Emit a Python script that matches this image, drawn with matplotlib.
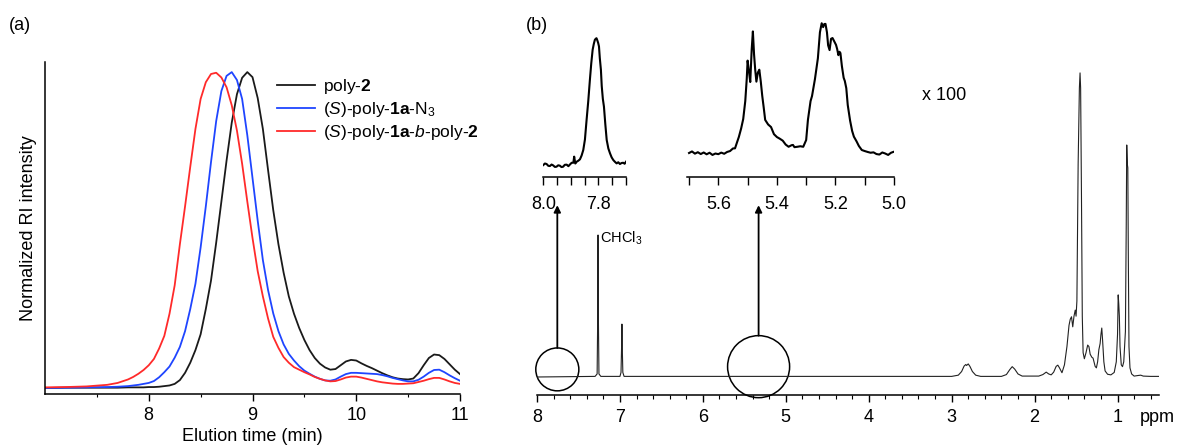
import numpy as np
import matplotlib
matplotlib.use("Agg")
import matplotlib.pyplot as plt
from matplotlib.patches import Ellipse

plt.rcParams['font.family'] = ['Liberation Sans', 'DejaVu Sans']
plt.rcParams['mathtext.fontset'] = 'custom'
plt.rcParams['mathtext.rm'] = 'Liberation Sans'
plt.rcParams['mathtext.it'] = 'Liberation Sans:italic'
plt.rcParams['mathtext.bf'] = 'Liberation Sans:bold'

# ============================================================
# (a) SEC traces, normalized RI intensity vs elution time
# ============================================================
time_min = [7.0, 7.2, 7.4, 7.6, 7.7, 7.8, 7.85, 7.9, 7.95, 8.0,
            8.05, 8.1, 8.15, 8.2, 8.25, 8.3, 8.35, 8.4, 8.45, 8.5,
            8.55, 8.6, 8.65, 8.7, 8.75, 8.8, 8.85, 8.9, 8.95, 9.0,
            9.05, 9.1, 9.15, 9.2, 9.25, 9.3, 9.35, 9.4, 9.45, 9.5,
            9.55, 9.6, 9.65, 9.7, 9.75, 9.8, 9.85, 9.9, 9.95, 10.0,
            10.05, 10.1, 10.15, 10.2, 10.25, 10.3, 10.35, 10.4, 10.45, 10.5,
            10.55, 10.6, 10.65, 10.7, 10.75, 10.8, 10.85, 10.9, 10.95, 11.0]

ri_poly2 = [0.0, 0.001, 0.001, 0.001, 0.001, 0.002, 0.002, 0.002, 0.002, 0.003,
            0.003, 0.004, 0.006, 0.008, 0.013, 0.025, 0.048, 0.08, 0.12, 0.17,
            0.25, 0.34, 0.46, 0.59, 0.72, 0.84, 0.93, 0.982, 1.0, 0.984,
            0.918, 0.82, 0.69, 0.563, 0.455, 0.365, 0.29, 0.235, 0.19, 0.152,
            0.12, 0.095, 0.077, 0.065, 0.058, 0.06, 0.072, 0.084, 0.089, 0.087,
            0.078, 0.07, 0.063, 0.055, 0.047, 0.04, 0.034, 0.03, 0.028, 0.027,
            0.03, 0.047, 0.072, 0.095, 0.106, 0.104, 0.092, 0.075, 0.058, 0.044]

ri_s1a_n3 = [0.0, 0.001, 0.002, 0.003, 0.004, 0.006, 0.008, 0.01, 0.013, 0.016,
             0.022, 0.034, 0.05, 0.068, 0.096, 0.13, 0.18, 0.25, 0.33, 0.445,
             0.575, 0.715, 0.845, 0.94, 0.988, 1.0, 0.975, 0.915, 0.80, 0.665,
             0.53, 0.405, 0.31, 0.236, 0.18, 0.138, 0.108, 0.087, 0.069, 0.055,
             0.045, 0.036, 0.029, 0.024, 0.023, 0.027, 0.036, 0.044, 0.048, 0.048,
             0.047, 0.046, 0.045, 0.044, 0.041, 0.037, 0.032, 0.028, 0.024, 0.021,
             0.021, 0.026, 0.036, 0.048, 0.057, 0.058, 0.05, 0.04, 0.031, 0.023]

ri_block = [0.002, 0.003, 0.005, 0.010, 0.016, 0.027, 0.035, 0.045, 0.057, 0.072,
            0.092, 0.125, 0.165, 0.235, 0.325, 0.455, 0.575, 0.70, 0.82, 0.915,
            0.968, 0.994, 0.998, 0.983, 0.952, 0.895, 0.815, 0.71, 0.59, 0.475,
            0.37, 0.29, 0.22, 0.162, 0.127, 0.098, 0.080, 0.066, 0.058, 0.050,
            0.043, 0.035, 0.029, 0.024, 0.021, 0.022, 0.027, 0.033, 0.036, 0.036,
            0.033, 0.029, 0.025, 0.021, 0.018, 0.016, 0.014, 0.013, 0.013, 0.014,
            0.015, 0.019, 0.023, 0.028, 0.032, 0.032, 0.027, 0.021, 0.016, 0.013]

labels_a = [r"poly-$\mathbf{2}$",
            r"($\mathit{S}$)-poly-$\mathbf{1a}$-N$_3$",
            r"($\mathit{S}$)-poly-$\mathbf{1a}$-$\mathit{b}$-poly-$\mathbf{2}$"]

# ============================================================
# (b) 1H NMR spectrum (ppm, relative intensity)
# ============================================================
nmr_ppm = [8.00, 7.30, 7.275, 7.268, 7.264, 7.260, 7.253, 7.23, 7.00, 6.987,
           6.980, 6.976, 6.972, 6.965, 6.95, 3.00, 2.92, 2.88, 2.85, 2.83,
           2.82, 2.80, 2.78, 2.75, 2.71, 2.65, 2.40, 2.34, 2.30, 2.27,
           2.24, 2.20, 2.15, 1.95, 1.90, 1.86, 1.83, 1.80, 1.77, 1.74,
           1.72, 1.70, 1.67, 1.64, 1.61, 1.585, 1.57, 1.555, 1.54, 1.525,
           1.51, 1.50, 1.49, 1.475, 1.46, 1.452, 1.445, 1.435, 1.425, 1.415,
           1.40, 1.38, 1.36, 1.345, 1.33, 1.31, 1.295, 1.27, 1.255, 1.24,
           1.225, 1.21, 1.20, 1.19, 1.18, 1.165, 1.15, 1.12, 1.08, 1.04,
           1.015, 1.0, 0.992, 0.985, 0.978, 0.97, 0.955, 0.94, 0.925, 0.905,
           0.895, 0.889, 0.882, 0.876, 0.870, 0.862, 0.85, 0.83, 0.80, 0.75,
           0.72, 0.69, 0.60, 0.50]
nmr_int = [0.0, 0.2, 1.0, 20, 46.7, 20, 1.0, 0.2, 0.2, 1.5,
           10, 17.4, 10, 1.5, 0.2, 0.2, 0.6, 1.8, 3.6, 4.1,
           3.8, 4.3, 3.5, 1.8, 0.6, 0.2, 0.2, 0.8, 2.4, 3.4,
           2.6, 1.0, 0.3, 0.3, 0.8, 1.6, 1.0, 0.7, 1.6, 3.5,
           3.9, 3.0, 1.4, 4.0, 10, 17, 19, 19.8, 16.5, 20,
           22, 20, 25, 70, 95, 100, 95, 60, 20, 8,
           6, 8, 10.5, 10, 7.5, 6.5, 6.2, 3.5, 3.0, 5,
           9, 11, 14, 16.1, 12, 5, 2, 0.9, 0.7, 1.5,
           5, 14, 27, 24, 20, 10, 4, 3.4, 5, 15,
           50, 76.3, 70, 68.8, 40, 10, 3, 1, 0.3, 0.5,
           0.6, 0.3, 0.2, 0.2]

# inset around 7.8 ppm (x 100)
ins1_ppm = [8.000, 7.994, 7.988, 7.982, 7.976, 7.970, 7.964, 7.958, 7.952, 7.946,
            7.940, 7.934, 7.928, 7.922, 7.915, 7.909, 7.903, 7.897, 7.891, 7.888,
            7.884, 7.879, 7.873, 7.867, 7.861, 7.855, 7.849, 7.843, 7.837, 7.831,
            7.826, 7.821, 7.817, 7.813, 7.810, 7.807, 7.804, 7.801, 7.798, 7.795,
            7.791, 7.788, 7.784, 7.780, 7.775, 7.770, 7.764, 7.758, 7.752, 7.746,
            7.740, 7.734, 7.728, 7.722, 7.716, 7.710, 7.705, 7.700]
ins1_int = [0.0, 1.2, 0.8, -0.6, -0.8, 0.4, -0.3, -1.5, -1.3, -0.2,
            -0.5, -1.6, -1.3, 0.2, 0.3, -0.9, 0.5, 1.8, 1.8, 6.6,
            1.2, 2.6, 3.4, 4.5, 7.5, 11.8, 20, 35.4, 50, 66.9,
            80, 90.6, 95, 98.4, 99.2, 99.7, 98, 96, 93.2, 84,
            74.8, 62, 52, 45.9, 32, 19.7, 13, 9.2, 6, 3.9,
            2.5, 1.3, 2.2, 0.8, 1.6, 1.8, 1.0, 2.6]

# inset 5.7 - 5.0 ppm (x 100)
ins2_ppm = [5.700, 5.690, 5.680, 5.670, 5.660, 5.650, 5.640, 5.630, 5.620, 5.610,
            5.600, 5.590, 5.580, 5.570, 5.560, 5.550, 5.543, 5.535, 5.530, 5.522,
            5.515, 5.508, 5.503, 5.500, 5.496, 5.491, 5.486, 5.482, 5.478, 5.474,
            5.470, 5.465, 5.460, 5.455, 5.450, 5.445, 5.440, 5.430, 5.420, 5.410,
            5.400, 5.390, 5.380, 5.370, 5.360, 5.350, 5.345, 5.340, 5.330, 5.320,
            5.310, 5.300, 5.294, 5.285, 5.280, 5.270, 5.260, 5.253, 5.247, 5.242,
            5.238, 5.234, 5.229, 5.225, 5.220, 5.215, 5.210, 5.204, 5.198, 5.194,
            5.190, 5.186, 5.183, 5.178, 5.172, 5.168, 5.163, 5.158, 5.150, 5.143,
            5.137, 5.128, 5.120, 5.110, 5.100, 5.090, 5.080, 5.070, 5.060, 5.050,
            5.040, 5.030, 5.020, 5.010, 5.000]
ins2_int = [0.0, 1.2, -0.5, 0.6, -0.8, 0.4, -1.0, 0.2, -1.5, -0.4,
            -0.9, 0.3, -0.6, 0.8, 1.5, 3.5, 3.6, 9, 12.3, 19,
            26.2, 40, 57, 71.2, 64, 54.7, 80, 93.7, 76, 64,
            55, 62, 64.2, 55, 44, 35, 25.5, 22, 20, 14.5,
            12.3, 11, 9.5, 6.5, 4.8, 6, 6.2, 4.5, 4.8, 5.2,
            4.8, 10, 25.5, 40, 43.9, 57, 73, 93, 100, 97,
            99.4, 99.5, 93, 83, 79.3, 88, 88.6, 86, 83.3, 80,
            75.4, 78, 77, 67, 58, 55.5, 50, 37, 25, 17,
            12.6, 9, 5.4, 2.3, 1.5, 0.8, 0.2, 0.5, -0.8, -1.2,
            0.4, -0.4, -1.5, 0.2, 1.0]

# circled regions and arrows (ppm centre)
circle_ppm = [7.755, 5.328]

# ============================================================
# Figure
# ============================================================
W, H = 1178, 448
fig = plt.figure(figsize=(W / 100, H / 100), dpi=100)


def px_axes(x0, x1, ytop, ybot):
    return fig.add_axes([x0 / W, 1 - ybot / H, (x1 - x0) / W, (ybot - ytop) / H])


fs = 13

# ---------------- panel (a) ----------------
ax = px_axes(45, 460, 62, 394)
ax.plot(time_min, ri_poly2, color='#1a1a1a', lw=1.3, label=labels_a[0])
ax.plot(time_min, ri_s1a_n3, color='#1f45ff', lw=1.3, label=labels_a[1])
ax.plot(time_min, ri_block, color='#ff2a2a', lw=1.3, label=labels_a[2])
ax.set_xlim(7, 11)
ax.set_ylim(-0.019, 1.032)
ax.set_xticks([8, 9, 10, 11])
ax.set_xticks([7.5, 8.5, 9.5, 10.5], minor=True)
ax.set_yticks([])
for s in ['top', 'right']:
    ax.spines[s].set_visible(False)
for s in ['left', 'bottom']:
    ax.spines[s].set_linewidth(1.1)
ax.tick_params(axis='x', which='major', length=5, width=1.0, labelsize=fs, pad=4)
ax.tick_params(axis='x', which='minor', length=2.5, width=0.8)
ax.set_xlabel("Elution time (min)", fontsize=fs, labelpad=3)
ax.set_ylabel("Normalized RI intensity", fontsize=fs, labelpad=6)
ax.legend(loc='upper left', bbox_to_anchor=(277 / W, 1 - 77 / H),
          bbox_transform=fig.transFigure, frameon=False, fontsize=12.5,
          handlelength=2.2, handletextpad=0.45, labelspacing=0.22,
          borderpad=0, borderaxespad=0)

fig.text(20 / W, 1 - 25 / H, "(a)", fontsize=fs, ha='center', va='center')
fig.text(537 / W, 1 - 25 / H, "(b)", fontsize=fs, ha='center', va='center')

# ---------------- panel (b) main spectrum ----------------
bx = px_axes(537, 1159, 20, 395)
bx.plot(nmr_ppm, nmr_int, color='#222222', lw=0.8)
bx.set_xlim(8, 0.5)
bx.set_ylim(-5.92, 117.4)
bx.set_xticks([8, 7, 6, 5, 4, 3, 2, 1])
bx.set_xticks(np.arange(7.8, 0.5, -0.2), minor=True)
bx.set_yticks([])
for s in ['top', 'right', 'left']:
    bx.spines[s].set_visible(False)
bx.spines['bottom'].set_linewidth(1.1)
bx.tick_params(axis='x', which='major', length=4.8, width=1.0, labelsize=fs, pad=5)
bx.tick_params(axis='x', which='minor', length=3, width=0.8)
bx.patch.set_alpha(0)

bx.text(7.245, 45.5, r"CHCl$_3$", fontsize=10.5, ha='left', va='center')
fig.text(1157 / W, 1 - 417 / H, "ppm", fontsize=fs, ha='center', va='center')
fig.text(944 / W, 1 - 96 / H, "x 100", fontsize=fs, ha='center', va='center')

circle_w = [0.519, 0.748]
circle_h = [14.1, 20.4]
circle_y = [2.5, 3.4]
for cx, cw, ch, cy in zip(circle_ppm, circle_w, circle_h, circle_y):
    bx.add_patch(Ellipse((cx, cy), cw, ch, fill=False, lw=1.1, ec='k', clip_on=False))
    bx.annotate('', xy=(cx, 56.5), xytext=(cx, cy + ch / 2),
                arrowprops=dict(arrowstyle='-|>', color='k', lw=1.3,
                                mutation_scale=10, shrinkA=0, shrinkB=0))

# ---------------- insets ----------------
ia = px_axes(543.3, 626, 20, 177)
ia.plot(ins1_ppm, ins1_int, color='k', lw=1.5)
ia.set_xlim(8.0, 7.7)
ia.set_ylim(-9.4, 114)
ia.set_xticks([8.0, 7.8])
ia.set_xticklabels(["8.0", "7.8"])
ia.set_xticks([7.95, 7.9, 7.85, 7.75, 7.7], minor=True)

ib = px_axes(687.3, 894, 20, 177)
ib.plot(ins2_ppm, ins2_int, color='k', lw=1.5)
ib.set_xlim(5.706, 5.0)
ib.set_ylim(-18.5, 102.5)
ib.set_xticks([5.6, 5.4, 5.2, 5.0])
ib.set_xticklabels(["5.6", "5.4", "5.2", "5.0"])
ib.set_xticks([5.7, 5.5, 5.3, 5.1], minor=True)

for a in (ia, ib):
    a.set_yticks([])
    for s in ['top', 'right', 'left']:
        a.spines[s].set_visible(False)
    a.spines['bottom'].set_linewidth(1.1)
    a.tick_params(axis='x', which='both', length=5.5, width=1.0, labelsize=fs, pad=8)
    a.patch.set_alpha(0)

fig.savefig("out.png", dpi=100)
